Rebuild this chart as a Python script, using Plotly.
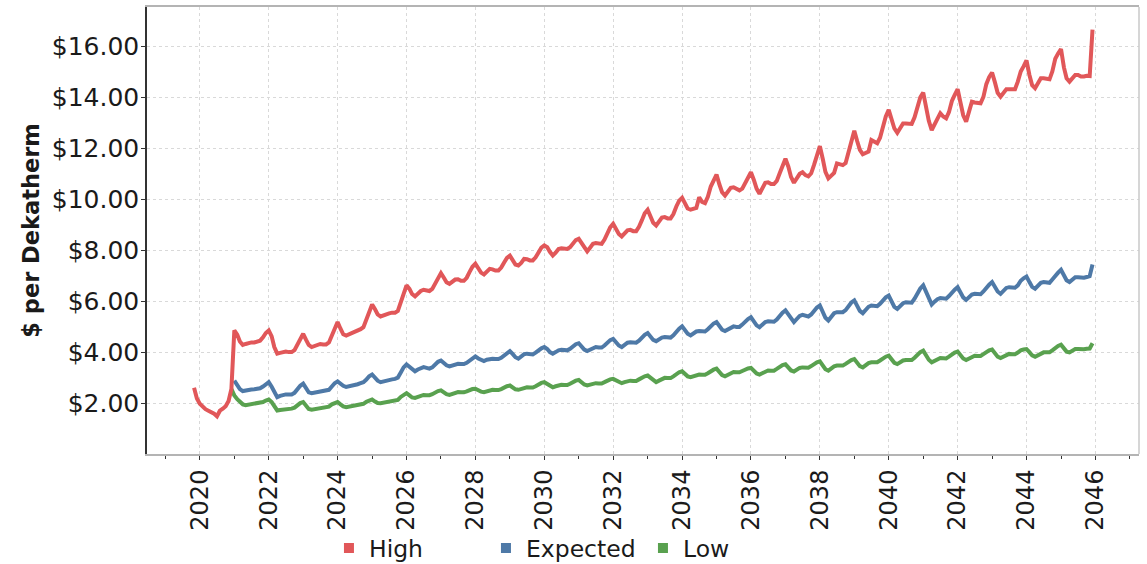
import plotly.graph_objects as go
import pandas as pd

# ---------------- data (monthly, $ per Dekatherm) ----------------
series_names = ["High", "Expected", "Low"]
series_colors = ["#e15759", "#4e79a7", "#59a14f"]

high_start = "2019-11-01"
high = [
    2.60, 2.18,
    1.97, 1.85, 1.76, 1.70, 1.65, 1.58, 1.48, 1.70, 1.78, 1.88, 2.08, 2.55,
    4.85, 4.68, 4.42, 4.28, 4.32, 4.36, 4.38, 4.38, 4.40, 4.45, 4.58, 4.75,
    4.85, 4.62, 4.20, 3.94, 3.97, 4.00, 4.02, 4.00, 4.00, 4.08, 4.30, 4.55,
    4.72, 4.48, 4.28, 4.20, 4.25, 4.30, 4.32, 4.30, 4.30, 4.38, 4.62, 4.92,
    5.18, 4.92, 4.70, 4.65, 4.70, 4.75, 4.78, 4.85, 4.90, 4.98, 5.25, 5.55,
    5.87, 5.68, 5.48, 5.40, 5.45, 5.50, 5.52, 5.55, 5.55, 5.62, 5.95, 6.30,
    6.62, 6.48, 6.28, 6.19, 6.30, 6.40, 6.45, 6.42, 6.40, 6.48, 6.72, 6.95,
    7.10, 6.92, 6.74, 6.68, 6.75, 6.85, 6.86, 6.80, 6.80, 6.92, 7.15, 7.35,
    7.47, 7.30, 7.12, 7.05, 7.15, 7.27, 7.25, 7.20, 7.20, 7.32, 7.52, 7.70,
    7.79, 7.58, 7.44, 7.40, 7.50, 7.66, 7.65, 7.60, 7.60, 7.72, 7.92, 8.10,
    8.19, 8.12, 7.94, 7.79, 7.90, 8.05, 8.08, 8.05, 8.05, 8.12, 8.26, 8.40,
    8.45, 8.28, 8.08, 7.96, 8.10, 8.25, 8.28, 8.25, 8.25, 8.42, 8.66, 8.90,
    9.04, 8.86, 8.64, 8.54, 8.65, 8.78, 8.80, 8.75, 8.75, 8.92, 9.18, 9.45,
    9.59, 9.32, 9.08, 8.97, 9.10, 9.28, 9.30, 9.25, 9.25, 9.42, 9.72, 9.95,
    10.06, 9.82, 9.64, 9.59, 9.62, 9.66, 10.08, 9.90, 9.85, 10.10, 10.50, 10.78,
    10.97, 10.58, 10.28, 10.15, 10.30, 10.45, 10.47, 10.40, 10.35, 10.42, 10.62, 10.82,
    11.06, 10.76, 10.42, 10.22, 10.45, 10.65, 10.67, 10.60, 10.60, 10.72, 11.02, 11.30,
    11.59, 11.28, 10.88, 10.65, 10.85, 11.00, 11.06, 10.95, 10.90, 11.02, 11.36, 11.72,
    12.09, 11.58, 11.08, 10.82, 10.95, 11.04, 11.41, 11.38, 11.34, 11.42, 11.82, 12.25,
    12.69, 12.28, 11.94, 11.77, 11.82, 11.87, 12.33, 12.25, 12.20, 12.42, 12.92, 13.25,
    13.51, 13.08, 12.78, 12.61, 12.80, 12.98, 12.98, 12.96, 12.96, 13.22, 13.70, 14.00,
    14.19, 13.58, 13.08, 12.72, 12.95, 13.20, 13.38, 13.25, 13.18, 13.42, 13.86, 14.10,
    14.32, 13.78, 13.30, 13.05, 13.40, 13.83, 13.80, 13.77, 13.77, 14.02, 14.52, 14.80,
    14.98, 14.58, 14.18, 14.03, 14.20, 14.32, 14.32, 14.32, 14.32, 14.62, 15.02, 15.22,
    15.45, 14.88, 14.48, 14.36, 14.55, 14.75, 14.75, 14.71, 14.71, 15.02, 15.52, 15.72,
    15.90, 15.18, 14.75, 14.62, 14.75, 14.88, 14.88, 14.82, 14.82, 14.85, 14.84, 16.66,
]

expected_start = "2021-01-01"
expected = [
    2.88, 2.70, 2.55, 2.47, 2.50, 2.52, 2.53, 2.54, 2.55, 2.58, 2.65, 2.75,
    2.82, 2.64, 2.40, 2.23, 2.28, 2.33, 2.34, 2.34, 2.34, 2.40, 2.55, 2.68,
    2.76, 2.55, 2.42, 2.39, 2.41, 2.43, 2.45, 2.46, 2.47, 2.52, 2.65, 2.78,
    2.85, 2.75, 2.68, 2.63, 2.65, 2.68, 2.70, 2.74, 2.78, 2.82, 2.92, 3.05,
    3.12, 3.00, 2.88, 2.82, 2.85, 2.90, 2.92, 2.93, 2.95, 3.00, 3.20, 3.40,
    3.52, 3.42, 3.30, 3.25, 3.32, 3.38, 3.41, 3.38, 3.35, 3.40, 3.52, 3.62,
    3.67, 3.58, 3.48, 3.44, 3.48, 3.52, 3.54, 3.53, 3.53, 3.58, 3.68, 3.77,
    3.83, 3.75, 3.68, 3.65, 3.70, 3.74, 3.74, 3.73, 3.73, 3.78, 3.88, 3.97,
    4.04, 3.92, 3.80, 3.74, 3.82, 3.92, 3.94, 3.91, 3.91, 3.98, 4.08, 4.15,
    4.20, 4.12, 4.00, 3.94, 4.00, 4.07, 4.09, 4.07, 4.07, 4.13, 4.24, 4.31,
    4.35, 4.22, 4.10, 4.04, 4.10, 4.18, 4.20, 4.18, 4.18, 4.26, 4.38, 4.47,
    4.52, 4.40, 4.26, 4.20, 4.28, 4.37, 4.39, 4.37, 4.37, 4.45, 4.58, 4.68,
    4.75, 4.62, 4.48, 4.43, 4.50, 4.57, 4.59, 4.57, 4.57, 4.66, 4.80, 4.92,
    5.01, 4.85, 4.72, 4.66, 4.73, 4.81, 4.83, 4.81, 4.81, 4.90, 5.03, 5.12,
    5.18, 5.02, 4.88, 4.83, 4.90, 4.98, 5.01, 4.99, 4.99, 5.08, 5.21, 5.30,
    5.37, 5.20, 5.05, 4.98, 5.07, 5.18, 5.21, 5.19, 5.19, 5.28, 5.43, 5.55,
    5.64, 5.48, 5.28, 5.18, 5.30, 5.42, 5.46, 5.42, 5.40, 5.48, 5.62, 5.75,
    5.83, 5.60, 5.35, 5.24, 5.40, 5.53, 5.57, 5.57, 5.57, 5.65, 5.82, 5.95,
    6.03, 5.82, 5.62, 5.53, 5.65, 5.78, 5.83, 5.82, 5.80, 5.90, 6.05, 6.15,
    6.22, 6.00, 5.78, 5.70, 5.80, 5.92, 5.96, 5.94, 5.94, 6.10, 6.35, 6.50,
    6.62, 6.35, 6.05, 5.87, 5.98, 6.08, 6.12, 6.10, 6.10, 6.20, 6.35, 6.45,
    6.55, 6.35, 6.15, 6.05, 6.15, 6.26, 6.29, 6.27, 6.27, 6.38, 6.55, 6.65,
    6.75, 6.55, 6.38, 6.29, 6.40, 6.52, 6.55, 6.53, 6.53, 6.62, 6.80, 6.90,
    6.97, 6.75, 6.56, 6.49, 6.60, 6.72, 6.75, 6.72, 6.72, 6.85, 7.02, 7.12,
    7.23, 7.00, 6.82, 6.75, 6.85, 6.94, 6.94, 6.92, 6.92, 6.95, 6.98, 7.44,
]

low_start = "2020-12-01"
low = [
    2.55,
    2.30, 2.15, 2.05, 1.95, 1.92, 1.94, 1.95, 1.96, 1.97, 1.99, 2.04, 2.10,
    2.14, 2.04, 1.85, 1.71, 1.73, 1.74, 1.75, 1.76, 1.78, 1.82, 1.92, 2.00,
    2.04, 1.88, 1.77, 1.74, 1.76, 1.78, 1.79, 1.80, 1.82, 1.86, 1.95, 2.01,
    2.04, 1.95, 1.87, 1.84, 1.86, 1.89, 1.91, 1.92, 1.93, 1.97, 2.05, 2.11,
    2.14, 2.06, 2.00, 1.99, 2.01, 2.03, 2.04, 2.05, 2.07, 2.12, 2.24, 2.33,
    2.39, 2.30, 2.22, 2.20, 2.25, 2.30, 2.32, 2.31, 2.31, 2.35, 2.43, 2.47,
    2.50, 2.42, 2.35, 2.32, 2.36, 2.40, 2.43, 2.42, 2.42, 2.46, 2.52, 2.55,
    2.56, 2.50, 2.45, 2.43, 2.47, 2.51, 2.52, 2.51, 2.51, 2.55, 2.62, 2.66,
    2.69, 2.60, 2.54, 2.52, 2.56, 2.61, 2.62, 2.61, 2.61, 2.66, 2.74, 2.79,
    2.82, 2.75, 2.66, 2.62, 2.66, 2.71, 2.72, 2.71, 2.71, 2.76, 2.84, 2.88,
    2.91, 2.82, 2.73, 2.69, 2.73, 2.77, 2.78, 2.77, 2.77, 2.82, 2.90, 2.93,
    2.95, 2.88, 2.81, 2.78, 2.82, 2.87, 2.88, 2.87, 2.87, 2.93, 3.01, 3.05,
    3.08, 2.98, 2.87, 2.82, 2.88, 2.96, 2.99, 2.98, 2.98, 3.05, 3.15, 3.21,
    3.25, 3.14, 3.05, 3.02, 3.06, 3.10, 3.12, 3.11, 3.11, 3.17, 3.26, 3.31,
    3.35, 3.22, 3.10, 3.05, 3.11, 3.19, 3.22, 3.21, 3.21, 3.26, 3.33, 3.36,
    3.38, 3.27, 3.16, 3.12, 3.18, 3.25, 3.28, 3.27, 3.27, 3.34, 3.44, 3.49,
    3.52, 3.38, 3.28, 3.24, 3.31, 3.38, 3.40, 3.39, 3.39, 3.45, 3.55, 3.60,
    3.64, 3.48, 3.33, 3.27, 3.36, 3.44, 3.47, 3.47, 3.47, 3.54, 3.64, 3.69,
    3.73, 3.58, 3.45, 3.40, 3.48, 3.57, 3.60, 3.60, 3.60, 3.67, 3.76, 3.82,
    3.86, 3.72, 3.58, 3.53, 3.60, 3.67, 3.69, 3.69, 3.69, 3.78, 3.92, 4.00,
    4.06, 3.88, 3.70, 3.60, 3.67, 3.74, 3.77, 3.76, 3.75, 3.82, 3.92, 3.98,
    4.02, 3.88, 3.75, 3.69, 3.75, 3.83, 3.86, 3.85, 3.85, 3.92, 4.02, 4.07,
    4.10, 3.95, 3.82, 3.77, 3.83, 3.90, 3.93, 3.92, 3.92, 3.98, 4.07, 4.10,
    4.12, 4.00, 3.87, 3.82, 3.88, 3.96, 3.99, 3.99, 3.99, 4.07, 4.18, 4.24,
    4.29, 4.12, 4.02, 3.99, 4.05, 4.12, 4.12, 4.11, 4.11, 4.13, 4.14, 4.35,
]

y_tick_values = [2, 4, 6, 8, 10, 12, 14, 16]
y_title = "$ per Dekatherm"

# ---------------- figure ----------------
def monthly(start, values):
    return pd.date_range(start, periods=len(values), freq="MS")

data = {
    "High": (high_start, high),
    "Expected": (expected_start, expected),
    "Low": (low_start, low),
}

fig = go.Figure()
# draw Low first, High last (on top)
for name in ["Low", "Expected", "High"]:
    start, vals = data[name]
    color = series_colors[series_names.index(name)]
    fig.add_trace(go.Scatter(
        x=monthly(start, vals), y=vals, mode="lines", name=name,
        line=dict(color=color, width=4), showlegend=False,
        hovertemplate="%{x|%b %Y}: $%{y:.2f}<extra>" + name + "</extra>",
    ))

# legend entries with square swatches
for name, color in zip(series_names, series_colors):
    fig.add_trace(go.Scatter(
        x=[None], y=[None], mode="markers", name=name,
        marker=dict(symbol="square", size=10, color=color),
        showlegend=True,
    ))

fig.update_layout(
    width=1147, height=564,
    margin=dict(l=147, r=8, t=7, b=110),
    plot_bgcolor="white", paper_bgcolor="white",
    font=dict(family="DejaVu Sans", size=24, color="#1a1a1a"),
    legend=dict(
        orientation="h", xref="container", yref="container",
        x=0.2868, y=0.028, xanchor="left", yanchor="middle",
        entrywidth=112, font=dict(size=23.5, color="#1a1a1a"),
        bgcolor="rgba(0,0,0,0)",
    ),
    shapes=[dict(type="line", xref="paper", yref="paper", x0=1, x1=1, y0=0, y1=1,
                 line=dict(color="#c8c8c8", width=1.5))],
)

fig.update_xaxes(
    type="date", range=["2018-06-20", "2047-04-08"], automargin=False,
    tick0="2020-01-01", dtick="M24", tickformat="%Y", tickangle=-90,
    ticks="outside", ticklen=4, tickcolor="#333", tickwidth=1,
    showgrid=True, gridcolor="#d9d9d9", griddash="dot", gridwidth=1,
    showline=True, linecolor="#b4b4b4", linewidth=2, mirror=True,
    minor=dict(tick0="2019-01-01", dtick="M12", ticks="outside", ticklen=3,
               tickcolor="#333", showgrid=False),
    tickfont=dict(size=24),
)

fig.update_yaxes(
    range=[0, 17.55], tickvals=y_tick_values, tickformat="$.2f", automargin=False,
    ticks="outside", ticklen=4, tickcolor="#333", ticklabelstandoff=-3,
    showgrid=True, gridcolor="#d9d9d9", griddash="dot", gridwidth=1,
    zeroline=False, showline=True, linecolor="#333", linewidth=1.5,
    tickfont=dict(size=25),
    title=dict(text=y_title, font=dict(size=22.5, weight="bold", color="#1a1a1a"), standoff=6),
)

fig.write_html("out.html", config={"displayModeBar": False},
               post_script="document.body.style.margin='0px';")
